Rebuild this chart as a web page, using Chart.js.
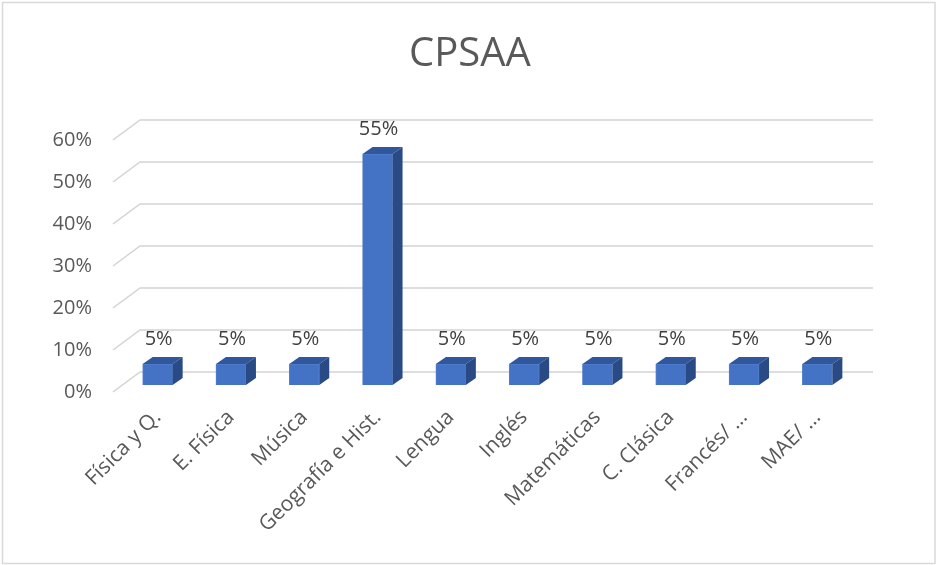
<!DOCTYPE html>
<html>
<head>
<meta charset="utf-8">
<script src="https://cdn.jsdelivr.net/npm/chart.js@4/dist/chart.umd.min.js"></script>
<style>
  html, body { margin: 0; padding: 0; background: #ffffff; }
  #wrap { position: relative; width: 936px; height: 565px; }
</style>
</head>
<body>
<div id="wrap"><canvas id="c" width="936" height="565"></canvas></div>
<script>
const chartTitle = 'CPSAA';
const categories = ['Física y Q.', 'E. Física', 'Música', 'Geografía e Hist.', 'Lengua', 'Inglés', 'Matemáticas', 'C. Clásica', 'Francés/ …', 'MAE/ …'];
const values = [0.05, 0.05, 0.05, 0.55, 0.05, 0.05, 0.05, 0.05, 0.05, 0.05];
const yTicks = [0, 0.1, 0.2, 0.3, 0.4, 0.5, 0.6];

const FONT = "'Open Sans', 'DejaVu Sans', sans-serif";
const DEPTH_FRONT = 7;   // front wall offset below bar plane
const DEPTH_BACK = 13;   // back wall offset above bar plane
const SIDE_DX = 27;      // wall depth horizontal skew
const BAR_DX = 10, BAR_DY = 7;

const fmtPct = v => Math.round(v * 100) + '%';

const wallPlugin = {
  id: 'wall3d',
  beforeDatasetsDraw(chart) {
    const ctx = chart.ctx, y = chart.scales.y, area = chart.chartArea;
    ctx.save();
    ctx.strokeStyle = '#d3d3d3';
    ctx.lineWidth = 1.5;
    yTicks.forEach(v => {
      const yb = y.getPixelForValue(v);
      const xl = area.left - 8;
      ctx.beginPath();
      ctx.moveTo(xl, yb + DEPTH_FRONT);
      ctx.lineTo(xl + SIDE_DX, yb - DEPTH_BACK);
      ctx.lineTo(area.right + 19, yb - DEPTH_BACK);
      ctx.stroke();
    });
    ctx.restore();
  },
  afterDatasetsDraw(chart) {
    const ctx = chart.ctx, meta = chart.getDatasetMeta(0);
    ctx.save();
    meta.data.forEach((bar, i) => {
      const p = bar.getProps(['x', 'y', 'base', 'width'], true);
      const l = p.x - p.width / 2, r = p.x + p.width / 2;
      ctx.fillStyle = '#30579c';
      ctx.beginPath();
      ctx.moveTo(l, p.y);
      ctx.lineTo(r, p.y);
      ctx.lineTo(r + BAR_DX, p.y - BAR_DY);
      ctx.lineTo(l + BAR_DX, p.y - BAR_DY);
      ctx.closePath();
      ctx.fill();
      ctx.fillStyle = '#294a85';
      ctx.beginPath();
      ctx.moveTo(r, p.y);
      ctx.lineTo(r + BAR_DX, p.y - BAR_DY);
      ctx.lineTo(r + BAR_DX, p.base - BAR_DY);
      ctx.lineTo(r, p.base);
      ctx.closePath();
      ctx.fill();
      ctx.fillStyle = '#404040';
      ctx.font = '20px ' + FONT;
      ctx.textAlign = 'center';
      ctx.textBaseline = 'middle';
      ctx.fillText(fmtPct(values[i]), p.x + 1, p.y - 25);
    });
    ctx.restore();
  },
  afterDraw(chart) {
    const ctx = chart.ctx;
    ctx.save();
    ctx.fillStyle = '#595959';
    ctx.font = '40px ' + FONT;
    ctx.textAlign = 'center';
    ctx.textBaseline = 'alphabetic';
    ctx.fillText(chartTitle, 470, 66);
    ctx.strokeStyle = '#d9d9d9';
    ctx.lineWidth = 1.5;
    ctx.strokeRect(2.5, 2.5, 932.5, 561);
    ctx.restore();
  }
};

new Chart(document.getElementById('c'), {
  type: 'bar',
  data: {
    labels: categories,
    datasets: [{
      data: values,
      backgroundColor: '#4472c4',
      borderColor: '#5a86d0',
      borderWidth: 0.8,
      barThickness: 30
    }]
  },
  options: {
    responsive: false,
    animation: false,
    devicePixelRatio: 1,
    layout: { padding: { left: 0, right: 82, top: 133, bottom: 0 } },
    plugins: {
      legend: { display: false },
      tooltip: { enabled: false },
      title: { display: false }
    },
    scales: {
      x: {
        grid: { display: false, drawTicks: false },
        border: { display: false },
        ticks: {
          color: '#595959',
          font: { family: FONT, size: 21 },
          minRotation: 45,
          maxRotation: 45,
          padding: 20,
          autoSkip: false
        },
        afterFit(scale) { scale.height = 180; }
      },
      y: {
        min: 0,
        max: 0.6,
        afterBuildTicks(scale) { scale.ticks = yTicks.map(v => ({ value: v })); },
        grid: { display: false, drawTicks: false },
        border: { display: false },
        ticks: {
          color: '#595959',
          font: { family: FONT, size: 20 },
          padding: 29,
          labelOffset: 7,
          callback: v => fmtPct(v)
        },
        afterFit(scale) { scale.width = 121; }
      }
    }
  },
  plugins: [wallPlugin]
});
</script>
</body>
</html>
